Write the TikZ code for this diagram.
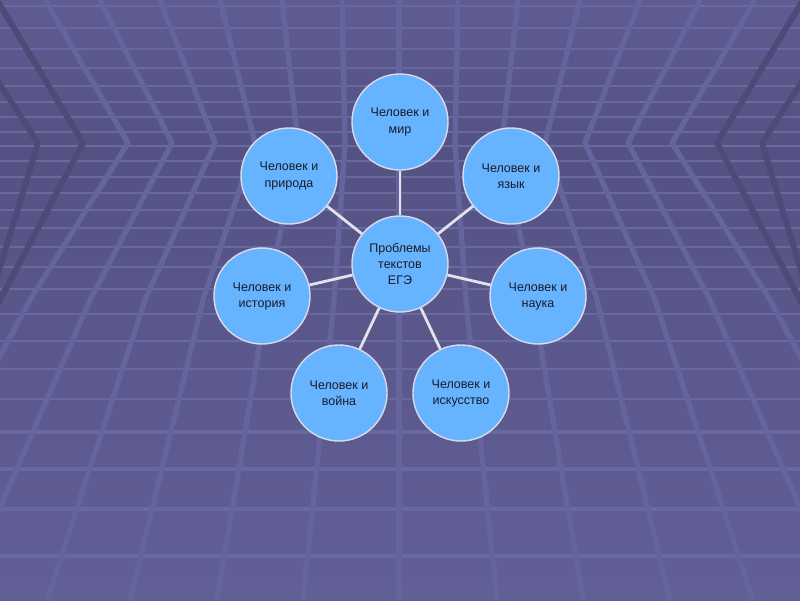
\documentclass[tikz,border=0pt]{standalone}
\usepackage{fontspec}
\setmainfont{Liberation Sans}
\definecolor{bgtop}{HTML}{5E5C91}
\definecolor{bgmid}{HTML}{545283}
\definecolor{bgbot}{HTML}{625F97}
\definecolor{hcol}{HTML}{6A68A1}
\definecolor{scol}{HTML}{66649D}
\definecolor{dcol}{HTML}{4C4A77}
\definecolor{bubfill}{HTML}{66B3FF}
\definecolor{bubline}{HTML}{DADAE8}
\definecolor{conncol}{HTML}{E2E2EC}
\definecolor{txtcol}{HTML}{1B1B28}
\begin{document}
\begin{tikzpicture}[x=0.025cm,y=-0.025cm,
  hline/.style={draw=hcol,line width=#1},
  slnorm/.style={draw=scol,line width=3.8pt,line join=round},
  sldark/.style={draw=dcol,line width=4.2pt,line join=round},
  bub/.style={circle,draw=bubline,line width=1pt,fill=bubfill,minimum size=2.4cm,
    inner sep=0pt,align=center,text=txtcol,font=\fontsize{8.9}{11.4}\selectfont},
  conn/.style={draw=conncol,line width=2pt}]
\useasboundingbox (0,0) rectangle (800,600);
\begin{scope}
\clip (0,0) rectangle (800,600);
\shade[top color=bgtop,bottom color=bgmid] (0,0) rectangle (800,145);
\shade[top color=bgmid,bottom color=bgbot] (0,145) rectangle (800,600);
% horizontal grid lines
\foreach \yy/\w in {6/1.5pt,28/1.5pt,49/1.4pt,68/1.3pt,86/1.3pt,102/1.2pt,117/1.2pt,132/1.1pt,146/1.1pt,
    161/1.2pt,177/1.2pt,193/1.3pt,210/1.3pt,228/1.4pt,247/1.5pt,267/1.6pt,289/1.7pt,314/1.8pt,
    341/1.9pt,369/2pt,399/2.1pt,432/2.2pt,469/2.3pt,509/2.4pt,556/2.5pt}
  \draw[hline=\w] (0,\yy) -- (800,\yy);
% perspective lines
\draw[slnorm] (399,0) -- (399,600);
\foreach \t/\a/\m/\b/\s in {342/345/334/303/slnorm,282/298/267/217/slnorm,220/255/203/130/slnorm,
    160/215/145/47/slnorm,100/172/90/-40/slnorm,45/128/30/-130/slnorm,-3/83/0/-200/sldark,-55/38/-10/-250/sldark}{
  \draw[\s] (\t,0) -- (\a,143) -- (\m,300) -- (\b,600);
  \draw[\s] ({800-\t},0) -- ({800-\a},143) -- ({800-\m},300) -- ({800-\b},600);
}
\end{scope}
% diagram
\node[bub] (c) at (400,264) {Проблемы\\текстов\\ЕГЭ};
\node[bub] (mir) at (400,122) {Человек и\\мир};
\node[bub] (yaz) at (511,176) {Человек и\\язык};
\node[bub] (nau) at (538,296) {Человек и\\наука};
\node[bub] (isk) at (461,393) {Человек и\\искусство};
\node[bub] (voi) at (339,393) {Человек и\\война};
\node[bub] (ist) at (262,296) {Человек и\\история};
\node[bub] (pri) at (289,176) {Человек и\\природа};
\foreach \n in {mir,yaz,nau,isk,voi,ist,pri}
  \draw[conn] (c) -- (\n);
\end{tikzpicture}
\end{document}
